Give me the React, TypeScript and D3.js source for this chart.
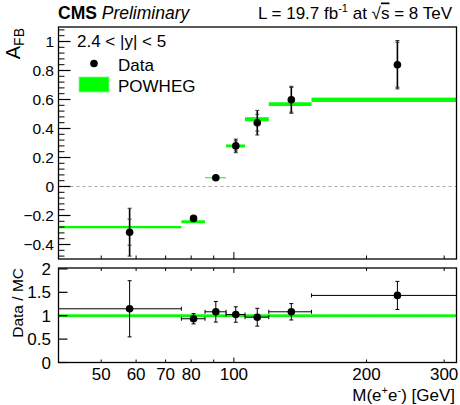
import React from 'react';
import * as d3 from 'd3';

// ---- data ----
const binEdges = [40, 76, 86, 96, 106, 120, 150, 320];
const massPoints = [58, 81, 91, 101, 113, 135, 235];
const afbData = [-0.315, -0.22, 0.06, 0.28, 0.44, 0.598, 0.84];
const afbStatErr = [0.09, 0.01, 0.008, 0.035, 0.058, 0.085, 0.155];
const afbTotErr = [0.165, 0.015, 0.012, 0.047, 0.085, 0.093, 0.167];
const powhegAfb = [-0.28, -0.243, 0.06, 0.28, 0.464, 0.568, 0.598];
const powhegErr = [0.008, 0.01, 0.0035, 0.01, 0.014, 0.013, 0.015];
const ratioVals = [1.148, 0.935, 1.084, 1.026, 0.968, 1.084, 1.434];
const ratioErr = [0.6, 0.11, 0.22, 0.165, 0.19, 0.175, 0.3];
const topYTicks = [-0.4, -0.2, 0, 0.2, 0.4, 0.6, 0.8, 1];
const botYTicks = [0, 0.5, 1, 1.5, 2];
const xLabelTicks = [50, 60, 70, 80, 100, 200, 300];
const xAllTicks = [50, 60, 70, 80, 90, 100, 200, 300];

const FONT = '"Liberation Sans", Arial, Helvetica, sans-serif';
const GREEN = '#00ff00';

export default function App() {
  const left = 58.5, right = 456.5;
  const x = d3.scaleLog().domain([40, 320]).range([left, right]);
  const yTop = d3.scaleLinear().domain([-0.5, 1.1]).range([259, 27]);
  const yBot = d3.scaleLinear().domain([0, 2.02]).range([362.5, 268]);

  const topMinor = d3.range(-12, 28).filter(i => i % 5 !== 0).map(i => i * 0.04);
  const fmtTop = (v: number) => (v === 0 ? '0' : v === 1 ? '1' : d3.format('.1f')(v));
  const fmtBot = (v: number) => (Number.isInteger(v) ? String(v) : d3.format('.1f')(v));

  const bins = powhegAfb.map((v, i) => ({ lo: binEdges[i], hi: binEdges[i + 1], v, e: powhegErr[i] }));

  return (
    <svg width={460} height={405} style={{ position: 'fixed', left: 0, top: 0, background: '#fff' }}
      fontFamily={FONT}>
      <rect x={0} y={0} width={460} height={405} fill="#fff" />
      {/* header */}
      <text x={58} y={18.5} fontSize={17.5} fill="#000">
        <tspan fontWeight="bold">CMS</tspan>
        <tspan fontStyle="italic"> Preliminary</tspan>
      </text>
      <text x={452} y={18.5} fontSize={17} textAnchor="end" fill="#000">
        L = 19.7 fb<tspan dy={-7} fontSize={11}>-1</tspan>
        <tspan dy={7}> at √</tspan>
        <tspan style={{ textDecoration: 'overline' }}>s</tspan>
        <tspan> = 8 TeV</tspan>
      </text>

      {/* ===== top panel ===== */}
      <line x1={left} x2={right} y1={yTop(0)} y2={yTop(0)} stroke="#aaa" strokeWidth={1} strokeDasharray="3,3" />
      {bins.map((b, i) => (
        <rect key={'pw' + i} x={x(b.lo)} width={x(b.hi) - x(b.lo)}
          y={yTop(b.v + b.e)} height={Math.max(1, yTop(b.v - b.e) - yTop(b.v + b.e))} fill={GREEN} />
      ))}
      {afbData.map((v, i) => {
        const cx = x(massPoints[i]);
        return (
          <g key={'d' + i}>
            <line x1={cx} x2={cx} y1={yTop(v + afbTotErr[i])} y2={yTop(v - afbTotErr[i])} stroke="#000" strokeWidth={1.6} />
            {[v + afbTotErr[i], v - afbTotErr[i], v + afbStatErr[i], v - afbStatErr[i]].map((yy, k) => (
              <line key={k} x1={cx - 2} x2={cx + 2} y1={yTop(yy)} y2={yTop(yy)} stroke="#333" strokeWidth={1} />
            ))}
            <circle cx={cx} cy={yTop(v)} r={3.8} fill="#000" />
          </g>
        );
      })}
      {/* top frame */}
      <rect x={left} y={27} width={right - left} height={259 - 27} fill="none" stroke="#000" strokeWidth={1.3} />
      {topYTicks.map(t => (
        <g key={'ty' + t}>
          <line x1={left} x2={left + 12} y1={yTop(t)} y2={yTop(t)} stroke="#000" strokeWidth={1.2} />
          <text x={54} y={yTop(t) + 5.5} fontSize={15.5} textAnchor="end">{fmtTop(t)}</text>
        </g>
      ))}
      {topMinor.map((t, i) => (
        <line key={'tm' + i} x1={left} x2={left + 6} y1={yTop(t)} y2={yTop(t)} stroke="#000" strokeWidth={1} />
      ))}
      {xAllTicks.map(t => (
        <line key={'tx' + t} x1={x(t)} x2={x(t)} y1={259} y2={259 - (t === 100 ? 7 : 3.5)} stroke="#000" strokeWidth={1} />
      ))}
      <text transform={`translate(20,28) rotate(-90)`} fontSize={20} textAnchor="end">
        A<tspan fontSize={14} dy={4}>FB</tspan>
      </text>

      {/* legend */}
      <text x={77} y={47} fontSize={17}>2.4 &lt; |y| &lt; 5</text>
      <circle cx={94} cy={63.5} r={3.8} fill="#000" />
      <text x={118} y={70.5} fontSize={17}>Data</text>
      <rect x={79} y={77} width={30} height={15} fill={GREEN} stroke="#7fff7f" strokeWidth={0.8} />
      <text x={118} y={91.5} fontSize={17}>POWHEG</text>

      {/* ===== bottom panel ===== */}
      <rect x={left} y={yBot(1.03)} width={right - left} height={yBot(0.97) - yBot(1.03)} fill={GREEN} />
      <line x1={left} x2={right} y1={yBot(1)} y2={yBot(1)} stroke="#999" strokeWidth={1} strokeDasharray="3,3" />
      {ratioVals.map((v, i) => {
        const cx = x(massPoints[i]);
        const xl = x(binEdges[i]);
        const xr = x(binEdges[i + 1]);
        const cy = yBot(v);
        return (
          <g key={'r' + i}>
            <line x1={xl} x2={xr} y1={cy} y2={cy} stroke="#000" strokeWidth={1} />
            <line x1={xl} x2={xl} y1={cy - 2} y2={cy + 2} stroke="#000" strokeWidth={1} />
            <line x1={xr} x2={xr} y1={cy - 2} y2={cy + 2} stroke="#000" strokeWidth={1} />
            <line x1={cx} x2={cx} y1={yBot(v + ratioErr[i])} y2={yBot(v - ratioErr[i])} stroke="#000" strokeWidth={1} />
            <line x1={cx - 2} x2={cx + 2} y1={yBot(v + ratioErr[i])} y2={yBot(v + ratioErr[i])} stroke="#000" strokeWidth={1} />
            <line x1={cx - 2} x2={cx + 2} y1={yBot(v - ratioErr[i])} y2={yBot(v - ratioErr[i])} stroke="#000" strokeWidth={1} />
            <circle cx={cx} cy={cy} r={3.8} fill="#000" />
          </g>
        );
      })}
      <rect x={left} y={268} width={right - left} height={362.5 - 268} fill="none" stroke="#000" strokeWidth={1.3} />
      {botYTicks.map(t => (
        <g key={'by' + t}>
          <line x1={left} x2={left + 9} y1={yBot(t)} y2={yBot(t)} stroke="#000" strokeWidth={1.2} />
          <text x={51} y={yBot(t) + 6} fontSize={17} textAnchor="end">{fmtBot(t)}</text>
        </g>
      ))}
      {xAllTicks.map(t => (
        <g key={'bx' + t}>
          <line x1={x(t)} x2={x(t)} y1={268} y2={268 + (t === 100 ? 5 : 3)} stroke="#000" strokeWidth={1} />
          <line x1={x(t)} x2={x(t)} y1={362.5} y2={362.5 - (t === 100 ? 5 : 3)} stroke="#000" strokeWidth={1} />
        </g>
      ))}
      {xLabelTicks.map(t => (
        <text key={'xl' + t} x={x(t)} y={379.5} fontSize={17} textAnchor="middle">{t}</text>
      ))}
      <text transform={`translate(23,268) rotate(-90)`} fontSize={15.5} textAnchor="end">Data / MC</text>
      <text x={455} y={401} fontSize={17} textAnchor="end">
        M(e<tspan dy={-7} fontSize={11}>+</tspan><tspan dy={7}>e</tspan><tspan dy={-7} fontSize={11}>-</tspan><tspan dy={7}>) [GeV]</tspan>
      </text>
    </svg>
  );
}
